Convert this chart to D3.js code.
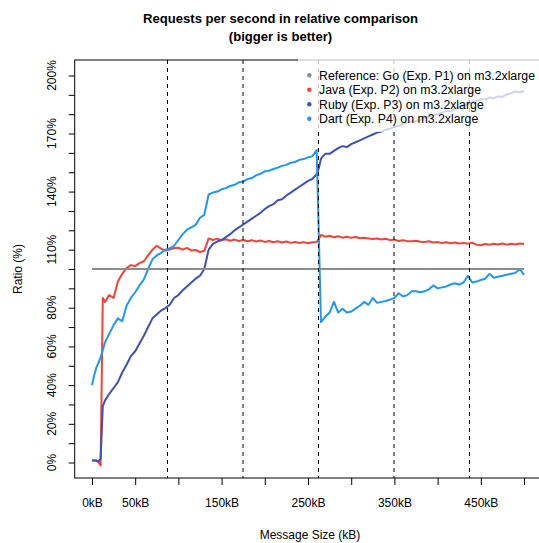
<!DOCTYPE html>
<html>
<head>
<meta charset="utf-8">
<script src="https://cdn.jsdelivr.net/npm/d3@7"></script>
<style>
  body { margin: 0; background: #fff; }
  svg { display: block; font-family: "Liberation Sans", Arial, Helvetica, sans-serif; }
</style>
</head>
<body>
<svg id="chart" width="539" height="543"></svg>
<script>
"use strict";

// message sizes (kB)
var sizes = [0, 2.5, 5, 7.5, 10, 12.5, 15,
  20, 25, 30, 35, 40, 45, 50, 55, 60, 65, 70, 75, 80, 85, 90, 95, 100,
  105, 110, 115, 120, 125, 130, 135, 140, 145, 150, 155, 160, 165, 170, 175, 180, 185, 190, 195, 200,
  205, 210, 215, 220, 225, 230, 235, 240, 245, 250, 255, 260, 262.5,
  265, 270, 275, 280, 285, 290, 295, 300,
  305, 310, 315, 320, 325, 330, 335, 340, 345, 350, 355, 360, 365, 370, 375, 380, 385, 390, 395, 400,
  405, 410, 415, 420, 425, 430, 435, 440, 445, 450, 455, 460, 465, 470, 475, 480, 485, 490, 495, 500];

// ratios in % relative to Go
var javaRatio = [1, 1, 1, 0, -1.5, 85, 83,
  86.5, 85, 93.5, 97.5, 100.5, 102, 101.5, 103, 104, 107, 110, 112, 110.5, 109.5, 110, 110.8, 111,
  110, 110.9, 109.5, 109.8, 108.8, 109.4, 115.8, 115, 115.7, 114.8, 115.4, 114.6, 115.2, 114.5, 115, 114.3, 114.9, 114.2, 114.7, 114,
  114.5, 113.8, 114.3, 113.7, 114.2, 113.5, 114, 113.4, 113.9, 113.3, 113.8, 114, 115.5,
  117.6, 116.7, 117.2, 116.4, 116.9, 116.2, 116.7, 116.1,
  116.5, 115.9, 116.1, 115.8, 115.5, 115.8, 115.2, 115.6, 114.9, 115.2, 114.5, 114.9, 114.4, 114.3, 114.6, 114.1, 114, 114.3, 113.7, 113.9,
  113.4, 113.8, 113.3, 113.7, 113.2, 113.5, 113.1, 113.6, 112.6, 112.3, 112.9, 112.5, 113, 112.7, 113.2, 112.6, 113, 112.7, 113.2, 112.9];

var rubyRatio = [1, 1, 1, 0.5, 2, 29, 32,
  35.5, 38.5, 41.5, 46.5, 50.5, 55, 57.5, 61.5, 65.5, 70, 74.5, 76.5, 78.5, 79.8, 81.5, 85, 86.5,
  89, 91, 93, 95, 96.5, 100, 110, 113, 114.2, 115, 116.5, 118, 120, 121.5, 123, 124.5, 126, 127.5, 129, 131,
  132.5, 133.5, 135.5, 136, 138, 139.5, 141, 142.5, 144, 145.5, 146.5, 149, 152,
  157, 159.5, 159.5, 161, 162.5, 163.5, 163, 164.5,
  165.5, 166.5, 167.5, 168.5, 169.5, 170.5, 171, 172, 172.5, 173.5, 174, 175, 175.5, 176.3, 176.5, 177, 178, 178.5, 179.5, 180,
  180.7, 181.8, 181.5, 182.8, 183.3, 184.8, 185.2, 186.2, 186.8, 187.8, 187.6, 188.6, 188.2, 189.2, 189, 190.2, 190.8, 191.8, 191.2, 192];

var dartRatio = [40, 45, 49, 51.5, 54.5, 58, 62,
  66.5, 71, 74.5, 73, 81, 85, 88, 91.5, 94.5, 100, 105, 107, 108.3, 110, 110.7, 112, 115,
  118, 120.3, 121.5, 122.8, 126.5, 128, 138.5, 139.5, 140, 141.2, 141.8, 142.9, 143.5, 144.8, 145.2, 146.5, 147, 148.4, 149.2, 150.5,
  150.8, 151.7, 152.4, 153.3, 153.8, 154.9, 155.3, 156.4, 156.8, 157.7, 158.2, 161.5, 118,
  72.5, 75.3, 77.5, 83, 77.5, 79.5, 77.5, 78,
  79.5, 81, 83, 81.5, 85, 82.5, 83, 83.5, 84.2, 85, 87.5, 85.8, 86.5, 88.5, 88.5, 88, 88.5, 89.5, 91.5, 90,
  90.5, 91, 92, 92.6, 92, 93, 96.5, 93, 93.5, 94.3, 95, 97.5, 95.5, 96, 96.5, 97, 97.5, 98, 100, 97];

// Go is the reference, flat at 100 %
var goSizes = [0, 500];
var goRatio = [100, 100];

var markers = [87.4, 174.8, 262.1, 349.5, 436.9];

var xTicks = [0, 50, 100, 150, 200, 250, 300, 350, 400, 450, 500];
var xLabels = [0, 50, 150, 250, 350, 450];
var yTicks = [0, 10, 20, 30, 40, 50, 60, 70, 80, 90, 100, 110, 120, 130, 140, 150, 160, 170, 180, 190, 200];
var yLabels = [0, 20, 40, 60, 80, 110, 140, 170, 200];

var legendNames = ["Reference: Go (Exp. P1) on m3.2xlarge", "Java (Exp. P2) on m3.2xlarge",
  "Ruby (Exp. P3) on m3.2xlarge", "Dart (Exp. P4) on m3.2xlarge"];
var colors = ["#8c8c8c", "#f44336", "#3f51b5", "#2196f3"];

var svg = d3.select("#chart");
var pLeft = 74.7, pRight = 541.3, pTop = 60, pBottom = 478;

var x = d3.scaleLinear().domain([-20, 520]).range([pLeft, pRight]);
var y = d3.scaleLinear().domain([-8, 208]).range([pBottom, pTop]);

// title
var title = svg.append("text")
  .attr("text-anchor", "middle")
  .attr("font-size", 13.1).attr("font-weight", "bold");
title.append("tspan").attr("x", 280.5).attr("y", 23).text("Requests per second in relative comparison");
title.append("tspan").attr("x", 280.5).attr("y", 41).text("(bigger is better)");

// data lines
var line = d3.line()
  .x((d) => x(d[0]))
  .y((d) => y(d[1]));

[javaRatio, rubyRatio, dartRatio].forEach(function(vals, i) {
  svg.append("path")
    .datum(sizes.map((s, j) => [s, vals[j]]))
    .attr("d", line)
    .attr("fill", "none")
    .attr("stroke", colors[i + 1])
    .attr("stroke-width", 2)
    .attr("stroke-linejoin", "round");
});

svg.append("path")
  .datum(goSizes.map((s, j) => [s, goRatio[j]]))
  .attr("d", line)
  .attr("fill", "none")
  .attr("stroke", colors[0])
  .attr("stroke-width", 2);

svg.selectAll(".marker")
  .data(markers)
  .enter()
  .append("line")
  .attr("x1", (d) => x(d)).attr("x2", (d) => x(d))
  .attr("y1", pTop).attr("y2", pBottom)
  .attr("stroke", "#000")
  .attr("stroke-width", 1)
  .attr("stroke-dasharray", "4,4");

// box
svg.append("rect")
  .attr("x", pLeft).attr("y", pTop)
  .attr("width", pRight - pLeft).attr("height", pBottom - pTop)
  .attr("fill", "none").attr("stroke", "#000").attr("stroke-width", 1);

// axes
var xAxis = d3.axisBottom(x).tickValues(xTicks).tickSize(7)
  .tickFormat((d) => xLabels.indexOf(d) >= 0 ? d + "kB" : "");
var gx = svg.append("g").attr("transform", "translate(0," + pBottom + ")").call(xAxis);
gx.select(".domain").remove();
gx.selectAll("text").attr("font-size", 12).attr("fill", "#000")
  .attr("font-family", "Liberation Sans, Arial, sans-serif").attr("dy", null).attr("y", 29);

var yAxis = d3.axisLeft(y).tickValues(yTicks).tickSize(6).tickFormat("");
var gy = svg.append("g").attr("transform", "translate(" + pLeft + ",0)").call(yAxis);
gy.select(".domain").remove();

svg.selectAll(".ylab")
  .data(yLabels)
  .enter()
  .append("text")
  .attr("transform", (d) => "translate(56," + y(d) + ") rotate(-90)")
  .attr("text-anchor", "middle")
  .attr("font-size", 12)
  .text((d) => d + "%");

svg.append("text")
  .attr("x", 310).attr("y", 539)
  .attr("text-anchor", "middle").attr("font-size", 12)
  .text("Message Size (kB)");

svg.append("text")
  .attr("transform", "translate(22,269) rotate(-90)")
  .attr("text-anchor", "middle").attr("font-size", 12)
  .text("Ratio (%)");

// legend, half transparent background like the original
var lg = svg.append("g");
lg.append("rect")
  .attr("x", 298).attr("y", 56).attr("width", 250).attr("height", 76)
  .attr("fill", "#fff").attr("fill-opacity", 0.75);
legendNames.forEach(function(name, i) {
  var ly = 75.3 + i * 14.5;
  lg.append("circle").attr("cx", 309.3).attr("cy", ly).attr("r", 2.2).attr("fill", colors[i]);
  lg.append("text").attr("x", 319).attr("y", ly + 4.3).attr("font-size", 12.3).text(name);
});
</script>
</body>
</html>
